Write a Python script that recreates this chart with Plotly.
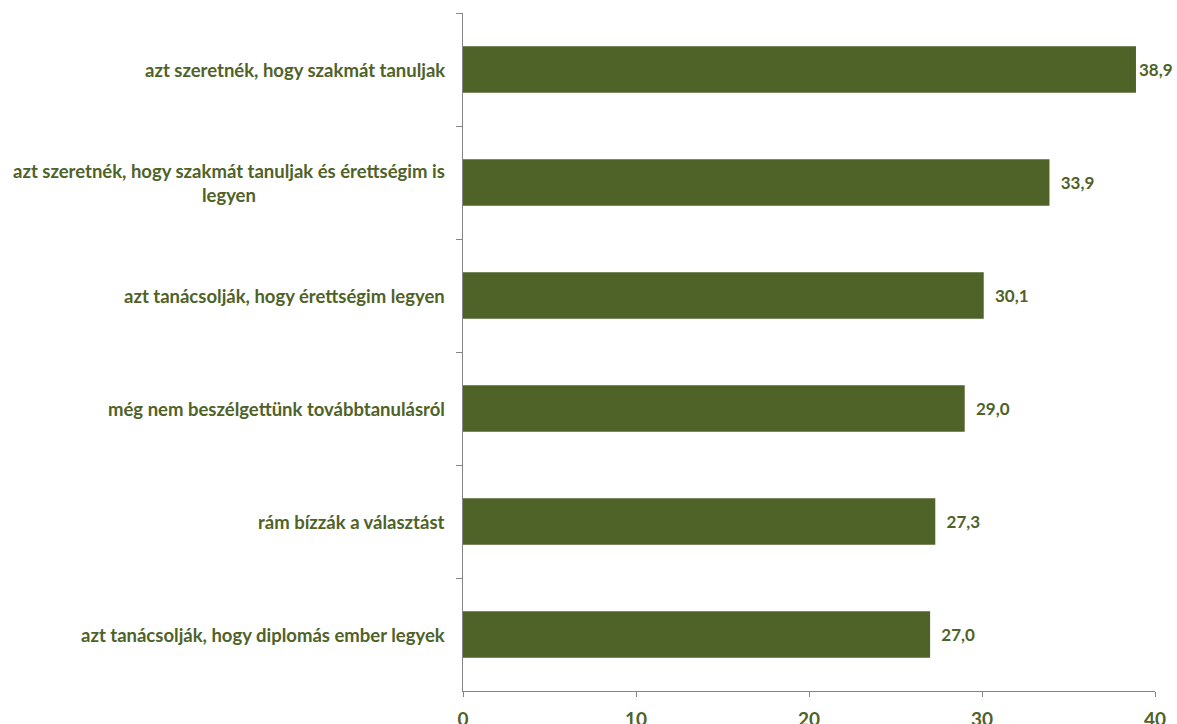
import plotly.graph_objects as go

categories = [
    "azt szeretnék, hogy szakmát tanuljak",
    "azt szeretnék, hogy szakmát tanuljak és érettségim is<br>legyen",
    "azt tanácsolják, hogy érettségim legyen",
    "még nem beszélgettünk továbbtanulásról",
    "rám bízzák a választást",
    "azt tanácsolják, hogy diplomás ember legyek",
]
values = [38.9, 33.9, 30.1, 29.0, 27.3, 27.0]
x_ticks = [0, 10, 20, 30, 40]

GREEN = "#4F6228"
AXIS = "#868686"
FONT = "Lato"

# label gap: the longest bar sits near the page edge, so its label is kept close
templates = ["%{x:.1f}" if v == max(values) else "  %{x:.1f}" for v in values]

fig = go.Figure(go.Bar(
    x=values, y=categories, orientation="h",
    marker=dict(color=GREEN, line=dict(width=0)),
    width=0.41,
    texttemplate=templates, textposition="outside",
    textfont=dict(family=FONT, size=17, color=GREEN, weight="bold"),
    cliponaxis=False,
))

for c in categories:
    fig.add_annotation(
        x=0, xref="paper", y=c, yref="y", xanchor="right", xshift=-16,
        text=c, showarrow=False, align="center",
        font=dict(family=FONT, size=18.5, color=GREEN, weight="bold"),
    )

fig.update_layout(
    width=1177, height=724,
    margin=dict(l=463, r=22, t=13, b=33, autoexpand=False),
    paper_bgcolor="white", plot_bgcolor="white",
    separators=",.",
    showlegend=False,
    xaxis=dict(
        range=[0, 40], tickvals=x_ticks, showgrid=False, zeroline=False,
        showline=True, linecolor=AXIS, linewidth=1, automargin=False,
        ticks="outside", ticklen=5, tickcolor=AXIS,
        ticklabelstandoff=6,
        tickfont=dict(family=FONT, size=19, color=GREEN, weight="bold"),
    ),
    yaxis=dict(
        autorange="reversed", showticklabels=False, showgrid=False, zeroline=False,
        showline=True, linecolor=AXIS, linewidth=1, automargin=False,
        ticks="outside", ticklen=6, tickcolor=AXIS, tickson="boundaries",
    ),
)

fig.write_html(
    "out.html",
    config={"displayModeBar": False},
    post_script="document.body.style.margin='0';document.body.style.overflow='hidden';",
)
